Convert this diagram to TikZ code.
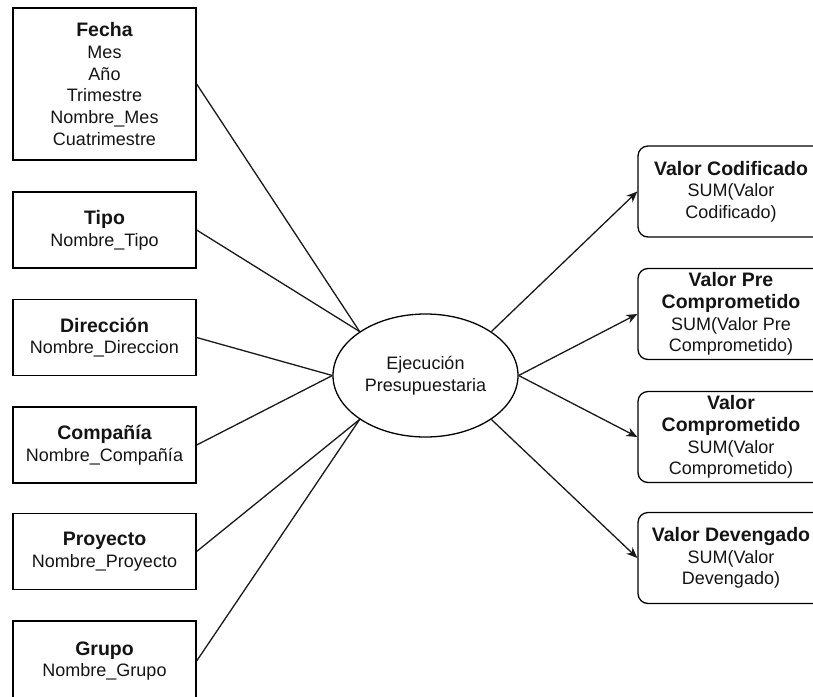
\documentclass[tikz,border=0pt]{standalone}
\usepackage{fontspec}
\setmainfont{Liberation Sans}
\usetikzlibrary{arrows.meta,shapes.geometric}

% body text and bold headings of the boxes
\newcommand\bodyfont{\fontsize{18}{21.7}\selectfont}
\newcommand\boxtitle[1]{{\fontsize{19.5}{21.7}\selectfont\bfseries #1}}

\tikzset{
  dimbox/.style={draw, rectangle, line width=1.3pt, minimum width=183pt,
    minimum height=76pt, inner sep=0pt, align=center, font=\bodyfont,
    text=black!92},
  measurebox/.style={draw, rectangle, rounded corners=10pt, line width=1.3pt,
    minimum width=186pt, minimum height=91pt, inner sep=0pt, align=center,
    font=\bodyfont, text=black!92},
  facthub/.style={draw, ellipse, line width=1.3pt, minimum width=185pt,
    minimum height=123pt, inner sep=0pt, align=center, font=\bodyfont,
    text=black!92},
  link/.style={line width=1.3pt, black!90},
  measurelink/.style={link, -{Stealth[length=11pt, width=9pt, inset=3.5pt]}}
}

\begin{document}
\begin{tikzpicture}[x=1pt, y=-1pt]
  \path[use as bounding box, clip] (0,0) rectangle (813,696);

  % dimension tables
  \node[dimbox, minimum height=152pt] (fecha) at (104.5,84)
    {\boxtitle{Fecha}\\Mes\\Año\\Trimestre\\Nombre\_Mes\\Cuatrimestre};
  \node[dimbox] (tipo) at (104.5,230) {\boxtitle{Tipo}\\Nombre\_Tipo};
  \node[dimbox] (dir) at (104.5,337.5) {\boxtitle{Dirección}\\Nombre\_Direccion};
  \node[dimbox] (comp) at (104.5,445) {\boxtitle{Compañía}\\Nombre\_Compañía};
  \node[dimbox] (proy) at (104.5,551.5) {\boxtitle{Proyecto}\\Nombre\_Proyecto};
  \node[dimbox, minimum height=80pt] (grupo) at (104.5,661) {\boxtitle{Grupo}\\Nombre\_Grupo};

  % fact
  \node[facthub] (hub) at (425.5,375.5) {Ejecución\\Presupuestaria};

  % measures
  \node[measurebox] (vcod) at (731,191.5)
    {\boxtitle{Valor Codificado}\\SUM(Valor\\Codificado)};
  \node[measurebox] (vpre) at (731,314)
    {\boxtitle{Valor Pre}\\\boxtitle{Comprometido}\\SUM(Valor Pre\\Comprometido)};
  \node[measurebox] (vcomp) at (731,437)
    {\boxtitle{Valor}\\\boxtitle{Comprometido}\\SUM(Valor\\Comprometido)};
  \node[measurebox] (vdev) at (731,558)
    {\boxtitle{Valor Devengado}\\SUM(Valor\\Devengado)};

  % dimensions to fact
  \draw[link] (fecha.east) -- (hub.north west);
  \draw[link] (tipo.east) -- (hub.north west);
  \draw[link] (dir.east) -- (hub.west);
  \draw[link] (comp.east) -- (hub.west);
  \draw[link] (proy.east) -- (hub.south west);
  \draw[link] (grupo.east) -- (hub.south west);

  % fact to measures
  \draw[measurelink] (hub.north east) -- (vcod.west);
  \draw[measurelink] (hub.east) -- (vpre.west);
  \draw[measurelink] (hub.east) -- (vcomp.west);
  \draw[measurelink] (hub.south east) -- (vdev.west);
\end{tikzpicture}
\end{document}
